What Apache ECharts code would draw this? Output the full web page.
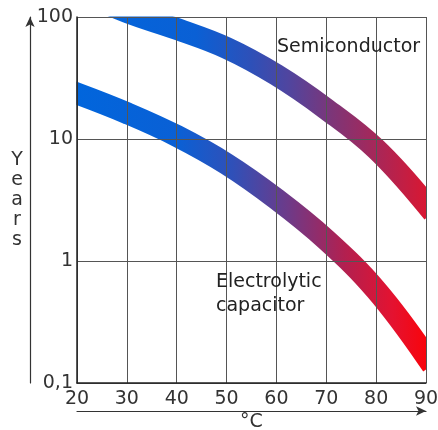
<!DOCTYPE html>
<html>
<head>
<meta charset="utf-8">
<script src="https://cdn.jsdelivr.net/npm/echarts@6/dist/echarts.min.js"></script>
<style>
  html, body { margin: 0; padding: 0; background: #fff; }
  #chart { width: 438px; height: 430px; }
</style>
</head>
<body>
<div id="chart"></div>
<script>
// temperatures (°C) and lifetime in years
const temps = [20, 30, 40, 50, 60, 70, 80, 90];
const semiconductor = [165, 110, 79.8, 55.7, 33.5, 17.6, 8.28, 2.93];
const electrolytic = [23.6, 16.3, 10.6, 6.24, 3.22, 1.49, 0.578, 0.166];
const yTicks = { 0.1: '0,1', 1: '1', 10: '10', 100: '100' };

const font = 'DejaVu Sans';
const textColor = '#333';

const toPairs = vals => temps.map((t, i) => [t, vals[i]]);

const grad = stops => new echarts.graphic.LinearGradient(0, 0, 1, 0,
  stops.map(([offset, color]) => ({ offset, color })));

// white masks: the line clip rect is padded by half the line width,
// so hide whatever bleeds past the plot frame
const mask = (x, y, width, height) => ({
  type: 'rect', z: 4, silent: true,
  shape: { x, y, width, height },
  style: { fill: '#fff' },
});

const chart = echarts.init(document.getElementById('chart'));

const option = {
  animation: false,
  backgroundColor: '#fff',
  grid: { left: 77, right: 12, top: 17, bottom: 47, outerBoundsMode: 'none' },
  xAxis: [
    {
      type: 'value',
      min: 20,
      max: 90,
      interval: 10,
      z: 6,
      axisLine: { lineStyle: { color: '#222', width: 1.5 } },
      axisTick: { show: false },
      axisLabel: { color: textColor, fontFamily: font, fontSize: 19, margin: 7 },
      splitLine: { show: true, lineStyle: { color: '#555', width: 1 } },
    },
    {
      // arrow under the axis labels
      type: 'value',
      position: 'bottom',
      offset: 28,
      z: 6,
      axisLine: { show: true, symbol: ['none', 'arrow'], symbolSize: [7, 10], lineStyle: { color: '#333', width: 1.2 } },
      axisTick: { show: false },
      axisLabel: { show: false },
      splitLine: { show: false },
      name: '°C',
      nameLocation: 'middle',
      nameGap: 2,
      nameTextStyle: { color: textColor, fontFamily: font, fontSize: 19 },
    },
  ],
  yAxis: [
    {
      type: 'log',
      logBase: 10,
      min: 0.1,
      max: 100,
      z: 6,
      axisLine: { show: true, lineStyle: { color: '#222', width: 1.5 } },
      axisTick: { show: false },
      axisLabel: {
        color: textColor, fontFamily: font, fontSize: 19, margin: 4,
        formatter: v => yTicks[+v.toPrecision(3)] ?? '',
      },
      splitLine: { show: true, lineStyle: { color: '#555', width: 1 } },
      minorSplitLine: { show: false },
    },
    {
      // arrow left of the tick labels
      type: 'value',
      position: 'left',
      offset: 47,
      z: 6,
      axisLine: { show: true, symbol: ['none', 'arrow'], symbolSize: [7, 10], lineStyle: { color: '#333', width: 1.2 } },
      axisTick: { show: false },
      axisLabel: { show: false },
      splitLine: { show: false },
      name: 'Y\ne\na\nr\ns',
      nameLocation: 'middle',
      nameRotate: 0,
      nameGap: 13,
      nameTextStyle: { color: textColor, fontFamily: font, fontSize: 19, lineHeight: 20, align: 'center' },
    },
  ],
  series: [
    {
      name: 'Semiconductor',
      type: 'line',
      z: 2,
      data: toPairs(semiconductor),
      smooth: 0.4,
      showSymbol: false,
      lineStyle: {
        width: 22,
        cap: 'square',
        color: grad([[0, '#0066dd'], [0.35, '#0a60d5'], [0.5, '#2e50b8'], [0.6, '#50459f'],
                     [0.72, '#7e3577'], [0.86, '#b02452'], [1, '#e3142a']]),
      },
    },
    {
      name: 'Electrolytic capacitor',
      type: 'line',
      z: 2,
      data: toPairs(electrolytic),
      smooth: 0.4,
      showSymbol: false,
      lineStyle: {
        width: 22,
        cap: 'square',
        color: grad([[0, '#0066dd'], [0.3, '#0a60d5'], [0.45, '#3050b8'], [0.6, '#6e3a88'],
                     [0.75, '#b22050'], [0.88, '#e41230'], [1, '#ff0000']]),
      },
    },
  ],
  graphic: [
    mask(0, 0, 76.5, 430),
    mask(0, 0, 438, 16.5),
    mask(426.6, 0, 12, 430),
    mask(0, 383.6, 438, 47),
    {
      type: 'text', left: 277, top: 38, z: 10,
      style: { text: 'Semiconductor', fill: '#222', font: `19px "${font}"` },
    },
    {
      type: 'text', left: 216, top: 270, z: 10,
      style: { text: 'Electrolytic\ncapacitor', fill: '#222', font: `19px "${font}"`, lineHeight: 24 },
    },
  ],
};

chart.setOption(option);
</script>
</body>
</html>
